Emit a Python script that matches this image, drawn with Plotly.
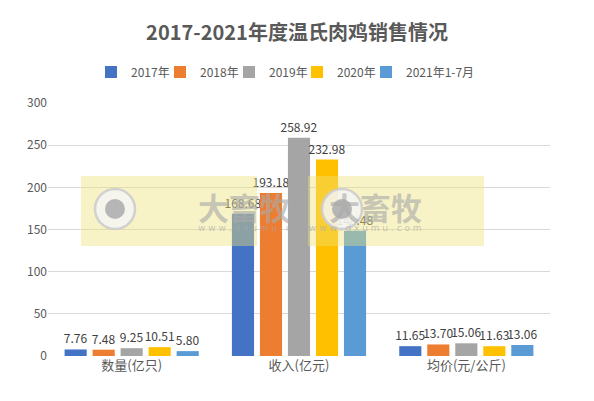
import plotly.graph_objects as go

# ---- data ----
categories = ["数量(亿只)", "收入(亿元)", "均价(元/公斤)"]
series_names = ["2017年", "2018年", "2019年", "2020年", "2021年1-7月"]
values_2017 = [7.76, 168.68, 11.65]
values_2018 = [7.48, 193.18, 13.70]
values_2019 = [9.25, 258.92, 15.06]
values_2020 = [10.51, 232.98, 11.63]
values_2021 = [5.80, 148.48, 13.06]
y_ticks = [0, 50, 100, 150, 200, 250, 300]

series_values = [values_2017, values_2018, values_2019, values_2020, values_2021]
colors = ["#4472C4", "#ED7D31", "#A5A5A5", "#FFC000", "#5B9BD5"]
legend_text_x = [130, 199, 268, 336, 405]   # where each legend label starts (screen px)

FONT = "Noto Sans CJK SC"

# page body adds an 8px margin, so the figure is drawn shifted by OFF
OFF = 8
W, H = 594 - OFF, 401 - OFF
ml, mr, mt, mb = 48 - OFF, 44, 103 - OFF, 45
PW, PH = W - ml - mr, H - mt - mb

fig = go.Figure()

legend_ids = ["legend"] + [f"legend{i}" for i in range(2, 6)]
for lid, name, vals, col in zip(legend_ids, series_names, series_values, colors):
    fig.add_trace(go.Bar(
        x=categories, y=vals, name=name, legend=lid, showlegend=True,
        marker=dict(color=col, line=dict(width=0)),
        text=vals, texttemplate="%{y:.2f}",
        textposition="outside", constraintext="none", cliponaxis=False,
        textfont=dict(size=12, color="#404040", family=FONT),
    ))


# ---- watermark boxes (site logo overlay), given in screen pixels ----
def fx(x):
    return (x - OFF - ml) / PW


def fy(y):
    return 1 - (y - OFF - mt) / PH


shapes = []
annotations = []
for bx0, bx1, cx, tx in [(81, 257, 115, 196), (308, 484, 342, 424)]:
    shapes.append(dict(type="rect", xref="paper", yref="paper", layer="above",
                       x0=fx(bx0), x1=fx(bx1), y0=fy(246), y1=fy(176),
                       fillcolor="rgba(238,226,120,0.42)", line=dict(width=0)))
    cy = 209
    for r, fill, lw in [(20, "rgba(245,245,245,0.85)", 2.5), (10, "rgba(175,175,175,0.9)", 0)]:
        shapes.append(dict(type="circle", xref="paper", yref="paper", layer="above",
                           x0=fx(cx - r), x1=fx(cx + r), y0=fy(cy + r), y1=fy(cy - r),
                           fillcolor=fill, line=dict(color="rgba(205,205,205,0.9)", width=lw)))
    annotations.append(dict(text="<b>大畜牧</b>", xref="paper", yref="paper", showarrow=False,
                            x=fx(tx), y=fy(206),
                            font=dict(size=31, color="rgba(170,170,170,0.65)", family=FONT)))
    annotations.append(dict(text="w w w . d x u m u . c o m", xref="paper", yref="paper", showarrow=False,
                            x=fx(tx), y=fy(228),
                            font=dict(size=9, color="rgba(170,170,170,0.65)", family="DejaVu Sans")))

legends = {}
for lid, tx in zip(legend_ids, legend_text_x):
    legends[lid] = dict(orientation="h", xref="container", x=(tx - 39 - OFF) / W, xanchor="left",
                        yref="container", y=1 - (72 - OFF) / H, yanchor="middle",
                        bgcolor="rgba(0,0,0,0)", borderwidth=0,
                        font=dict(size=12, color="#595959", family=FONT), itemwidth=30)

fig.update_layout(
    width=W, height=H, showlegend=True,
    margin=dict(l=ml, r=mr, t=mt, b=mb, autoexpand=False),
    paper_bgcolor="white", plot_bgcolor="white",
    barmode="group", bargap=0.163, bargroupgap=0.21,
    font=dict(family=FONT, color="#595959", size=12),
    title=dict(text="<b>2017-2021年度温氏肉鸡销售情况</b>", x=(297 - OFF) / W, xanchor="center",
               y=1 - (33 - OFF) / H, yanchor="middle", yref="container",
               font=dict(size=20, color="#595959", family=FONT)),
    shapes=shapes, annotations=annotations,
    **legends,
)

fig.update_xaxes(showline=False, ticks="", tickfont=dict(size=13, color="#595959"))
fig.update_yaxes(range=[0, 300], tickvals=y_ticks, showgrid=True, gridcolor="#D9D9D9",
                 gridwidth=1, zeroline=False, showline=False, ticks="",
                 tickfont=dict(size=12, color="#595959"))

fig.write_html("out.html")
